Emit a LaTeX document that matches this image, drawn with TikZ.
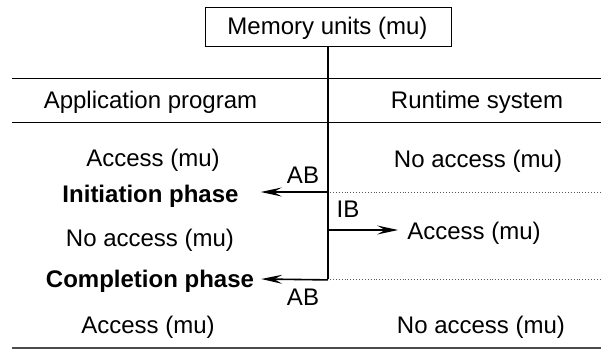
\documentclass[tikz,border=0pt]{standalone}
\usepackage{fontspec}
\setmainfont{Liberation Sans}
\usetikzlibrary{arrows.meta}
\begin{document}
\begin{tikzpicture}[x=1pt,y=-1pt,
  txt/.style={font=\fontsize{24}{28}\selectfont, inner sep=0pt, anchor=base},
  bold/.style={txt, font=\fontsize{24}{28}\selectfont\bfseries},
  arr/.style={line width=1.6pt, -{Stealth[length=21pt,width=9pt,inset=8pt]}},
  rule/.style={line width=0.9pt},
  dots/.style={line width=0.9pt, dotted, gray!70!black}]
\useasboundingbox (0,0) rectangle (601,349);
\node[draw, line width=0.9pt, minimum width=246pt, minimum height=39pt, inner sep=0pt,
  text depth=0pt, text height=0pt] (mu) at (328,26.5) {};
\node[txt] (mut) at (327.5,34) {Memory units (mu)};
\coordinate (j1) at (328,192);
\coordinate (j2) at (328,230);
\coordinate (j3) at (328,279);
\coordinate (hl) at (12,78);
\coordinate (hr) at (601,78);
\coordinate (ml) at (12,122);
\coordinate (mr) at (601,122);
\coordinate (bl) at (12,348);
\coordinate (br) at (601,348);
\coordinate (d1) at (601,192);
\coordinate (d2) at (601,279);
\draw[rule] (hl) -- (hr);
\draw[rule] (ml) -- (mr);
\draw[line width=1.2pt, gray!60!black] (bl) -- (br);
\draw[line width=1.8pt] (mu.south) -- (j3);
\node[txt] (ap) at (150.5,108) {Application program};
\node[txt] (rs) at (477,108) {Runtime system};
\node[txt] (a1) at (153,166) {Access (mu)};
\node[txt] (n1) at (478,167) {No access (mu)};
\node[bold] (ip) at (150.5,202) {Initiation phase};
\node[txt] (ab1) at (303,183) {AB};
\node[txt] (ib) at (348,217) {IB};
\node[txt] (a2) at (474,239) {Access (mu)};
\node[txt] (n2) at (150,246) {No access (mu)};
\node[bold] (cp) at (150,287) {Completion phase};
\node[txt] (ab2) at (303,305) {AB};
\node[txt] (a3) at (148,333) {Access (mu)};
\node[txt] (n3) at (481,333) {No access (mu)};
\draw[dots] ([xshift=2pt]j1) -- (d1);
\draw[dots] ([xshift=2pt]j3) -- (d2);
\draw[arr] (j1) -- ([xshift=22pt]ip.east |- j1);
\draw[arr] (j2) -- ([xshift=-9pt]a2.west |- j2);
\draw[arr] ([yshift=-0.9pt]j3) -- ([xshift=7pt]cp.east |- j3);
\end{tikzpicture}
\end{document}
